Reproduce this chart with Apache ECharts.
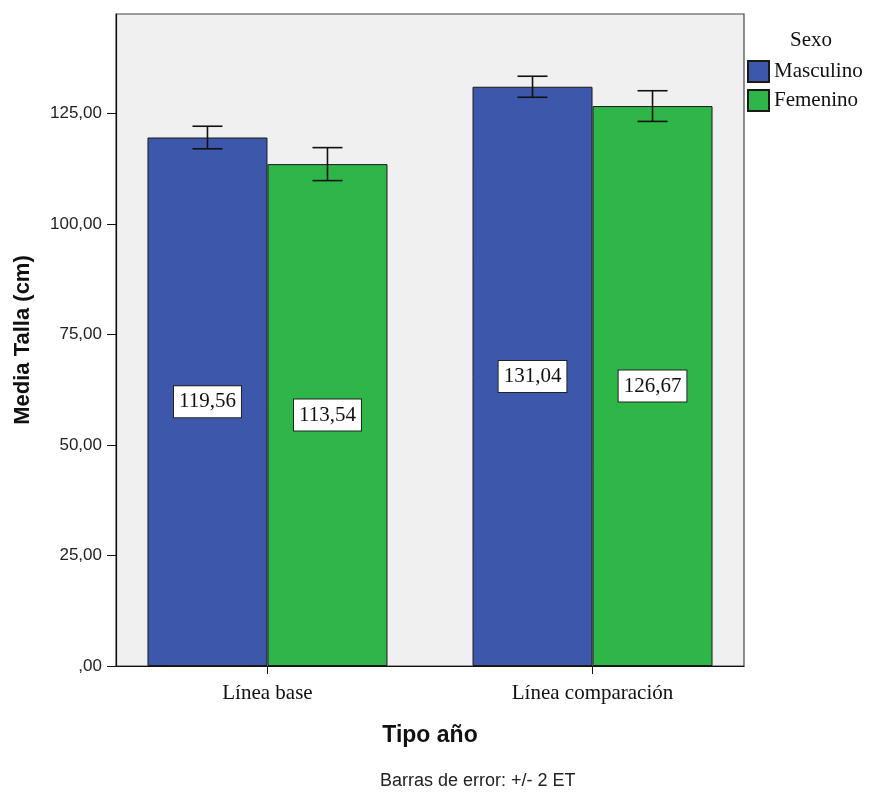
<!DOCTYPE html>
<html>
<head>
<meta charset="utf-8">
<style>
  html, body { margin: 0; padding: 0; background: #ffffff; }
  #chart { width: 873px; height: 793px; }
</style>
<script src="https://cdn.jsdelivr.net/npm/echarts@6/dist/echarts.min.js"></script>
</head>
<body>
<div id="chart"></div>
<script>
// Mean height (cm) by survey year and sex, with ±2 SE error bars
const categories = ['Línea base', 'Línea comparación'];
const seriesNames = ['Masculino', 'Femenino'];
const masculino = [119.56, 131.04];
const femenino = [113.54, 126.67];
// half-width of the error bar (2 × standard error)
const errMasculino = [2.55, 2.38];
const errFemenino = [3.73, 3.47];
const yTicks = [0, 25, 50, 75, 100, 125];

const BLUE = '#3d58ab';
const GREEN = '#2eb748';
const BAR_W = 120;
const serif = '"Liberation Serif", "DejaVu Serif", serif';
const sans = '"Liberation Sans", Arial, sans-serif';

const fmt = v => v.toFixed(2).replace('.', ',');

function barSeries(name, values, color) {
  return {
    name: name,
    type: 'bar',
    barWidth: BAR_W,
    barGap: '0%',
    data: values.map((v, i) => [i, v]),
    itemStyle: { color: color, borderColor: '#1a1a1a', borderWidth: 1 },
    label: {
      show: true,
      position: 'inside',
      formatter: p => fmt(p.value[1]),
      fontFamily: serif,
      fontSize: 21,
      lineHeight: 22,
      color: '#111',
      backgroundColor: '#ffffff',
      borderColor: '#222',
      borderWidth: 1,
      padding: [5, 5, 4, 5]
    }
  };
}

function errorSeries(values, errs, shift) {
  return {
    type: 'custom',
    silent: true,
    z: 5,
    data: values.map((v, i) => [i, v - errs[i], v + errs[i]]),
    renderItem: function (params, api) {
      const lo = api.coord([api.value(0), api.value(1)]);
      const hi = api.coord([api.value(0), api.value(2)]);
      const x = lo[0] + shift;
      const cap = 15;
      const style = { stroke: '#111', lineWidth: 1.6 };
      return {
        type: 'group',
        children: [
          { type: 'line', shape: { x1: x, y1: lo[1], x2: x, y2: hi[1] }, style: style },
          { type: 'line', shape: { x1: x - cap, y1: lo[1], x2: x + cap, y2: lo[1] }, style: style },
          { type: 'line', shape: { x1: x - cap, y1: hi[1], x2: x + cap, y2: hi[1] }, style: style }
        ]
      };
    }
  };
}

const chart = echarts.init(document.getElementById('chart'));
chart.setOption({
  animation: false,
  backgroundColor: '#ffffff',
  title: [
    {
      text: 'Sexo',
      left: 785, top: 25,
      textStyle: { fontFamily: serif, fontSize: 21, fontWeight: 'normal', color: '#111' }
    },
    {
      text: 'Barras de error: +/- 2 ET',
      left: 380, top: 772,
      padding: 0,
      textStyle: { fontFamily: sans, fontSize: 18, fontWeight: 'normal', color: '#222' }
    }
  ],
  legend: {
    data: seriesNames,
    orient: 'vertical',
    left: 747, top: 60,
    padding: 0,
    itemWidth: 21, itemHeight: 21, itemGap: 6,
    icon: 'rect',
    textStyle: { fontFamily: serif, fontSize: 21, color: '#111' },
    selectedMode: false
  },
  grid: {
    left: 116, right: 129, top: 14, bottom: 127,
    show: true,
    backgroundColor: '#f0f0f0',
    borderColor: '#444',
    borderWidth: 1.2
  },
  xAxis: {
    type: 'value',
    min: -0.466, max: 1.466,
    name: 'Tipo año',
    nameLocation: 'middle',
    nameGap: 58,
    nameTextStyle: { fontFamily: sans, fontSize: 23, fontWeight: 'bold', color: '#111' },
    splitLine: { show: false },
    axisLine: { show: true, onZero: false, lineStyle: { color: '#111', width: 1.2 } },
    axisTick: { show: true, length: 8, customValues: [0, 1], lineStyle: { color: '#111' } },
    axisLabel: {
      customValues: [0, 1],
      formatter: v => categories[Math.round(v)] || '',
      fontFamily: serif, fontSize: 21, color: '#111', margin: 17
    }
  },
  yAxis: {
    type: 'value',
    min: 0, max: 147.5,
    name: 'Media Talla (cm)',
    nameLocation: 'middle',
    nameRotate: 90,
    nameGap: 82,
    nameTextStyle: { fontFamily: sans, fontSize: 22, fontWeight: 'bold', color: '#111' },
    splitLine: { show: false },
    axisLine: { show: true, onZero: false, lineStyle: { color: '#111', width: 1.2 } },
    axisTick: { show: true, length: 9, customValues: yTicks, lineStyle: { color: '#111' } },
    axisLabel: {
      customValues: yTicks,
      formatter: v => v === 0 ? ',00' : fmt(v),
      fontFamily: sans, fontSize: 17, color: '#222', margin: 14
    }
  },
  series: [
    barSeries(seriesNames[0], masculino, BLUE),
    barSeries(seriesNames[1], femenino, GREEN),
    errorSeries(masculino, errMasculino, -BAR_W / 2),
    errorSeries(femenino, errFemenino, BAR_W / 2)
  ]
});
</script>
</body>
</html>
